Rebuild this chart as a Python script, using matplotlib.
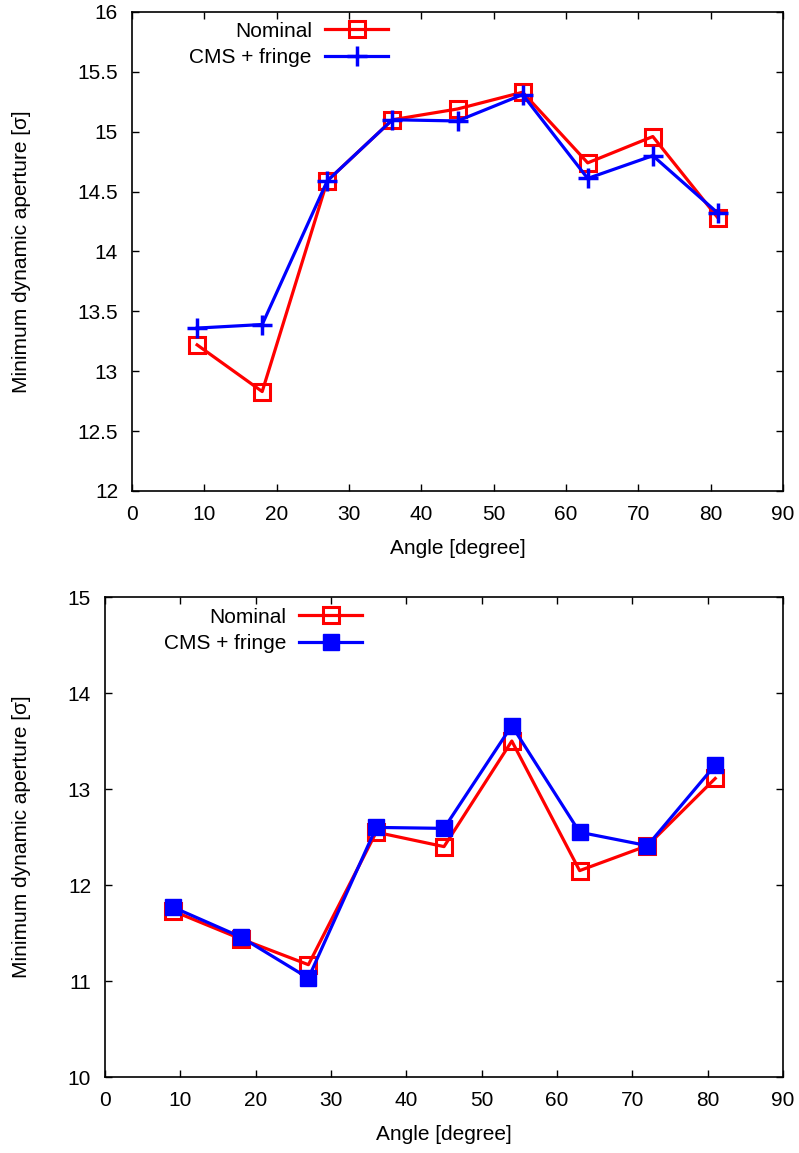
import numpy as np
import matplotlib.pyplot as plt

plt.rcParams['font.family'] = ['Liberation Sans', 'DejaVu Sans']
plt.rcParams['font.size'] = 15

# Angles [degree]
angles = [9, 18, 27, 36, 45, 54, 63, 72, 81]

# Top panel
top_nominal = [13.22, 12.83, 14.59, 15.10, 15.19, 15.33, 14.74, 14.96, 14.28]
top_cms = [13.36, 13.39, 14.59, 15.10, 15.09, 15.31, 14.61, 14.80, 14.32]

# Bottom panel
bot_nominal = [11.73, 11.44, 11.17, 12.55, 12.40, 13.50, 12.15, 12.41, 13.11]
bot_cms = [11.77, 11.46, 11.03, 12.60, 12.59, 13.66, 12.55, 12.41, 13.25]

red = '#ff0000'
blue = '#0000ff'

fig = plt.figure(figsize=(7.99, 11.53), dpi=100)
ax1 = fig.add_axes([0.1652, 0.5742, 0.8148, 0.4154])
ax2 = fig.add_axes([0.1314, 0.0659, 0.8486, 0.4163])


def style_axes(ax, ylim, yticks, ylab_x):
    ax.set_xlim(0, 90)
    ax.set_ylim(*ylim)
    ax.set_xticks(range(0, 91, 10))
    ax.set_yticks(yticks)
    ax.set_yticklabels(['%g' % v for v in yticks])
    ax.tick_params(direction='in', top=True, right=True, length=5, width=1,
                   labelsize=15, pad=10)
    for s in ax.spines.values():
        s.set_linewidth(1.2)
    ax.set_xlabel('Angle [degree]', fontsize=15)
    ax.set_ylabel('Minimum dynamic aperture [σ]', fontsize=15)
    ax.xaxis.set_label_coords(0.5, -0.10)
    ax.yaxis.set_label_coords(ylab_x, 0.5)


def add_legend(ax, x, y):
    ax.legend(loc='upper right', bbox_to_anchor=(x, y), frameon=False,
              markerfirst=False, handlelength=3.0, handletextpad=0.65,
              labelspacing=0.35, fontsize=15, borderaxespad=0, borderpad=0)


# Top panel
ax1.plot(angles, top_nominal, color=red, lw=2.3, marker='s', ms=12,
         mfc='none', mec=red, mew=2.2, label='Nominal')
ax1.plot(angles, top_cms, color=blue, lw=2.3, marker='+', ms=14,
         mec=blue, mew=2.5, label='CMS + fringe')
style_axes(ax1, (12, 16), np.arange(12, 16.01, 0.5), -0.155)
add_legend(ax1, 0.393, 0.98)

# Bottom panel
ax2.plot(angles, bot_nominal, color=red, lw=2.3, marker='s', ms=12,
         mfc='none', mec=red, mew=2.2, label='Nominal')
ax2.plot(angles, bot_cms, color=blue, lw=2.3, marker='s', ms=11,
         mfc=blue, mec=blue, mew=1, label='CMS + fringe')
style_axes(ax2, (10, 15), np.arange(10, 15.01, 1), -0.109)
add_legend(ax2, 0.379, 0.978)

fig.savefig('out.png', dpi=100)
